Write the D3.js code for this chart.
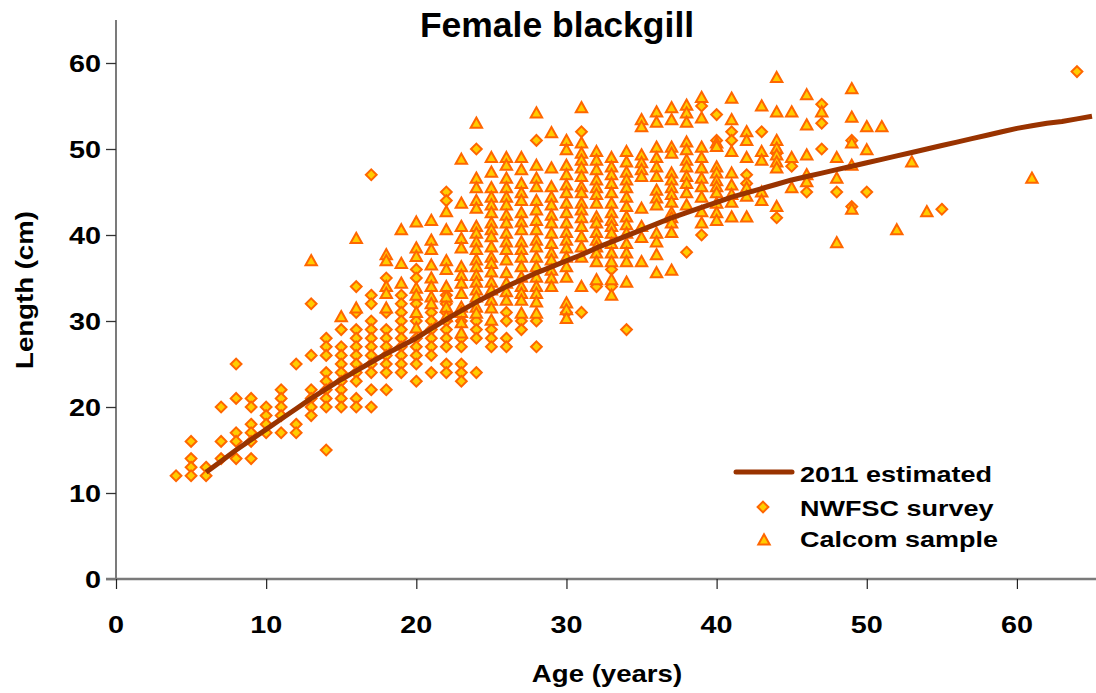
<!DOCTYPE html>
<html>
<head>
<meta charset="utf-8">
<script src="https://cdn.jsdelivr.net/npm/d3@7"></script>
<style>
  html, body { margin: 0; padding: 0; background: #fff; }
  svg { display: block; }
  text { font-family: "Liberation Sans", Arial, sans-serif; font-weight: bold; fill: #000; }
</style>
</head>
<body>
<svg id="chart" width="1096" height="693"></svg>
<script>
// ---- Growth curve (2011 estimate), length at age ----
const growthAges = [6,7,8,9,10,11,12,13,14,15,16,17,18,19,20,21,22,23,24,25,26,27,28,29,30,
  31,32,33,34,35,36,37,38,39,40,41,42,43,44,45,46,47,48,49,50,51,52,53,54,55,56,57,58,59,60,
  61,62,63,64,65];
const growthLengths = [12.4,13.7,15.0,16.2,17.4,18.6,19.8,21.0,22.1,23.2,24.2,25.2,26.2,27.1,28.0,
  29.1,30.2,31.2,32.2,33.1,34.0,34.8,35.6,36.3,37.0,37.7,38.5,39.2,39.9,40.6,41.3,42.0,42.6,43.2,43.8,
  44.4,44.9,45.4,45.9,46.4,46.8,47.2,47.6,48.0,48.4,48.8,49.2,49.6,50.0,50.4,50.8,51.2,51.6,52.0,52.4,
  52.7,53.0,53.2,53.5,53.8];

// ---- NWFSC survey: lengths grouped by age ----
const surveyAges = [4,5,6,7,8,9,10,11,12,13,14,15,16,17,18,19,20,21,22,23,24,25,26,27,28,30,31,32,33,34,
  38,39,40,41,42,43,44,45,46,47,48,49,50,55,64];
const surveyLengths = [
  [12],[16,14,13,12],[13,12],[20,16,14],[25,21,17,16,14],[21,20,18,17,16,14],[20,19,18,17],
  [22,21,20,19,17],[25,18,17],[32,26,22,21,20,19],[28,27,26,24,23,22,21,20,15],
  [29,27,26,25,24,23,22,21,20],[34,31,29,28,27,26,25,24,23,21,20],
  [47,33,32,30,29,28,27,26,25,24,22,20],[35,31,29,28,27,26,25,24,22],
  [33,32,31,30,29,28,27,26,25,24],[36,35,32,30,28,27,26,25,23],[31,30,29,28,27,26,24],
  [45,44,33,32,31,30,29,28,27,25,24],[30,28,27,25,24,23],[50,30,29,28,24],[29,28,27],
  [31,30,28,27],[30,29],[51,30,27],[31],[52,31],[34],[36,34],[29],
  [38],[55,40],[54,51],[52,51],[47,46],[52],[49.5,42],[48],[45],[55.2,53,50],[45],[51,43.3],[45],[43],[59]
];

// ---- Calcom sample: lengths grouped by age ----
const calcomAges = [13,15,16,18,19,20,21,22,23,24,25,26,27,28,29,30,31,32,33,34,35,36,37,38,39,40,
  41,42,43,44,45,46,47,48,49,50,51,52,53,54,61];
const calcomLengths = [
  [37],[30.5],[39.6,31.5],[37.7,37,34,33.2,31.5],[40.6,36.7,34.4],
  [41.5,38.5,37.5,33.8,33,31,29.2],[41.7,39.4,38.3,36.5,35,34,32.8,32],
  [42.7,40.6,37,36,34,32.8,31.6,30.5],
  [48.8,43.7,41,39.6,38.5,36.3,35.3,34.4,33.2,31.6,31,29.8,28.6],
  [53,46.6,45.5,44,43.1,41,40.2,39.2,38.3,37.1,36.3,35.3,34.5,33.6,32.8,31.6,30.9],
  [49,47.3,45.5,44.4,43.5,42.6,41.4,40.6,39.8,38.6,37.4,36.7,35.7,34.5,33.6,32.4,31.5,30.1],
  [49,48.1,46.6,45.5,44.4,43.5,42.3,41.4,40.2,39.2,38.3,37.1,35.6,34.4,33.4,32.4],
  [49,47.6,46,44.9,44,42.6,41.5,40.6,39.2,38.3,37.4,36.3,35.1,34,33.2,32.4,30.9],
  [54.2,48.1,46.6,45.6,44,42.9,41.7,40.6,39.4,38.6,37.4,36.3,35.1,34,33.2,32.2,30.9],
  [51.9,47.8,45.6,44.4,43.5,42.3,41.4,40.2,39,37.9,37.1,35.9,35,34],
  [51,49.9,48.1,47,45.8,44.9,43.7,42.6,41.4,40.3,39.4,38.5,37.4,36.3,35.1,32.1,31.3,30.3],
  [54.8,50.7,49.5,48.7,47.8,46.8,45.6,44.9,43.7,42.9,42,41,39.8,38.6,37.4,34],
  [49.7,48.7,47.6,46.4,45.5,44.7,43.7,42.1,41.4,40.3,39.4,38.6,37.9,36.9,34.8],
  [49,47.9,47,46,44.9,43.7,42.6,41.7,41,40.2,39,37.9,36.9,34.8,33],
  [49.7,48.5,47.3,46.4,45.5,44.4,43.3,42.1,41.2,40.2,39,37.9,36.9,34.5],
  [53.4,52.6,49.3,48.4,47.6,46.8,43.1,41,39.7,36.9],
  [54.3,53.1,50.2,49,47.9,46.8,45.2,44.3,43.5,40.2,39.2,37.7,35.6],
  [54.8,53.4,50.2,49.5,47.2,46.4,45.5,44.7,43.8,42.6,42,41.4,40.3,35.9],
  [55.1,54.2,53.1,50.8,49.9,48.7,47.9,46.8,46,44.9,43.5],
  [56,53.6,50.2,49,47.8,46.6,45.6,44.4,42.7,41.4],
  [50.7,50.3,47.9,47.2,46.3,45.6,44.9,43.7,42.6,41.7],
  [55.9,53.4,49.7,47.2,45.8,44.7,43.8,42.1],
  [52,51,49,45.5,44.5,42.1],
  [55,49.7,48.7,45,44],
  [58.3,54.3,51,50.1,49.3,48.5,47.8,43.3],
  [54.3,49,45.5],
  [56.3,52.8,49.3,47,46.2],
  [54.3],
  [49,46.6,39.1],
  [57,53.7,50.7,48.1,43],
  [52.6,49.9],[52.6],[40.6],[48.5],[42.7],[46.6]
];

// ---- Axis ticks and labels ----
const xTicks = [0,10,20,30,40,50,60];
const yTicks = [0,10,20,30,40,50,60];
const titleText = "Female blackgill";
const xTitle = "Age (years)";
const yTitle = "Length (cm)";
const legendLabels = ["2011 estimated", "NWFSC survey", "Calcom sample"];

// ---- Style ----
const fillColor = "#FFCC00";
const markerStroke = "#FF6600";
const curveColor = "#993300";
const stretch = 1.2; // horizontal widening of the bold labels

const svg = d3.select("#chart");
const x = d3.scaleLinear().domain([0, 65]).range([116, 1092]);
const y = d3.scaleLinear().domain([0, 65]).range([579, 20]);

function flatten(ages, groups) {
  const out = [];
  ages.forEach((a, i) => groups[i].forEach(v => out.push({ age: a, len: v })));
  return out;
}
const surveyPts = flatten(surveyAges, surveyLengths);
const calcomPts = flatten(calcomAges, calcomLengths);

const diamondPath = "M0,-5.4L5.4,0L0,5.4L-5.4,0Z";
const trianglePath = "M0,-5.7L5.7,4.5L-5.7,4.5Z";

// stretched text helper
function label(g, tx, ty, str, size, anchor, rotate, sx) {
  const k = sx === undefined ? stretch : sx;
  return g.append("text")
    .attr("transform", `translate(${tx},${ty})` + (rotate ? ` rotate(${rotate})` : "") + ` scale(${k},1)`)
    .attr("text-anchor", anchor)
    .style("font-size", size + "px")
    .text(str);
}

// ---- Axes ----
const yAxis = svg.append("g").attr("transform", `translate(116,0)`)
  .call(d3.axisLeft(y).tickValues(yTicks).tickSize(10).tickFormat(""));
yAxis.select(".domain").attr("stroke", "#333").attr("stroke-width", 1.3).attr("d", `M0,${y(65)}V${y(0)}`);
yAxis.selectAll(".tick line").attr("stroke", "#333").attr("stroke-width", 1.3);

const xAxis = svg.append("g").attr("transform", `translate(0,579)`)
  .call(d3.axisBottom(x).tickValues(xTicks).tickSize(10).tickFormat(""));
xAxis.select(".domain").attr("stroke", "#7a7a7a").attr("stroke-width", 2.6).attr("d", `M106,0H1096`);
xAxis.selectAll(".tick line").attr("stroke", "#222").attr("stroke-width", 1.2);

const labels = svg.append("g");
yTicks.forEach(v => label(labels, 101, y(v) + 8.5, String(v), 24, "end"));
xTicks.forEach(v => label(labels, x(v), 633, String(v), 24, "middle"));

// ---- Titles ----
label(labels, 557, 37, titleText, 35.5, "middle", 0, 1);
label(labels, 607, 682, xTitle, 23, "middle");
label(labels, 33, 290, yTitle, 23, "middle", -90);

// ---- Points ----
svg.append("g").selectAll("path").data(surveyPts).join("path")
  .attr("d", diamondPath)
  .attr("transform", d => `translate(${x(d.age)},${y(d.len)})`)
  .attr("fill", fillColor).attr("stroke", markerStroke).attr("stroke-width", 2);

svg.append("g").selectAll("path").data(calcomPts).join("path")
  .attr("d", trianglePath)
  .attr("transform", d => `translate(${x(d.age)},${y(d.len)})`)
  .attr("fill", fillColor).attr("stroke", markerStroke).attr("stroke-width", 2);

// ---- Growth curve ----
const growth = growthAges.map((a, i) => ({ age: a, len: growthLengths[i] }));
svg.append("path").datum(growth)
  .attr("fill", "none").attr("stroke", curveColor).attr("stroke-width", 5)
  .attr("stroke-linejoin", "round")
  .attr("d", d3.line().x(d => x(d.age)).y(d => y(d.len)));

// ---- Legend ----
const lg = svg.append("g");
lg.append("line").attr("x1", 736).attr("x2", 792).attr("y1", 472).attr("y2", 472)
  .attr("stroke", curveColor).attr("stroke-width", 5).attr("stroke-linecap", "round");
lg.append("path").attr("d", diamondPath).attr("transform", "translate(763,507)")
  .attr("fill", fillColor).attr("stroke", markerStroke).attr("stroke-width", 2);
lg.append("path").attr("d", trianglePath).attr("transform", "translate(764,540)")
  .attr("fill", fillColor).attr("stroke", markerStroke).attr("stroke-width", 2);
[482, 516, 547].forEach((by, i) => label(lg, 800, by, legendLabels[i], 22.5, "start"));
</script>
</body>
</html>
